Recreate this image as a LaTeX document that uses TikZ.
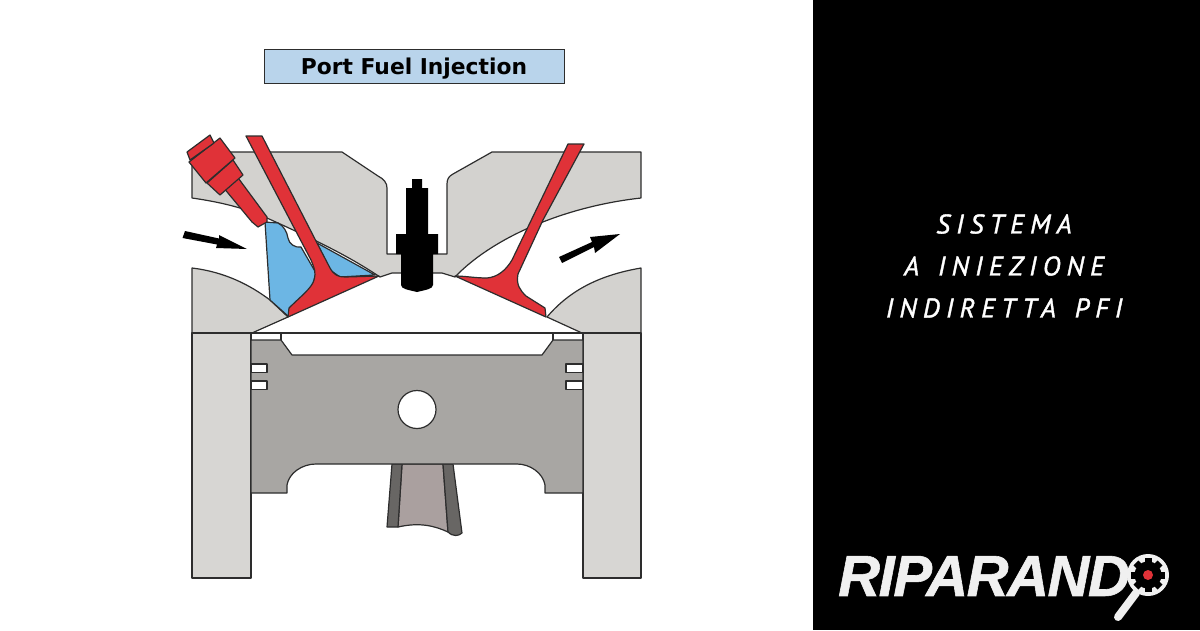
\documentclass[tikz,border=0pt]{standalone}
\usepackage{fontspec}
\usepackage{xcolor}
\usetikzlibrary{positioning}
\newfontfamily\titlefont{DejaVu Sans}
\newfontfamily\slogfont[LetterSpace=23, WordSpace=1.4, ItalicFeatures={FakeBold=1.4}]{PT Sans}
\newfontfamily\logofont[LetterSpace=-2.5, BoldItalicFeatures={FakeBold=1}]{Liberation Sans}
\definecolor{headgray}{RGB}{211, 210, 207}
\definecolor{wallgray}{RGB}{215, 214, 211}
\definecolor{pistongray}{RGB}{168, 166, 163}
\definecolor{rodlight}{RGB}{170, 160, 159}
\definecolor{roddark}{RGB}{104, 102, 100}
\definecolor{valvered}{RGB}{224, 50, 56}
\definecolor{fuelblue}{RGB}{108, 182, 228}
\definecolor{titleblue}{RGB}{185, 212, 235}
\definecolor{logowhite}{RGB}{240, 240, 240}
\definecolor{edgedark}{RGB}{45, 45, 45}
\tikzset{
 part/.style={draw=edgedark, line width=1.2pt, line join=round},
 headpart/.style={part, fill=headgray},
 wallpart/.style={part, fill=wallgray},
 redpart/.style={part, fill=valvered},
 fuelpart/.style={part, fill=fuelblue},
 voidpart/.style={part, fill=white},
 blackpart/.style={fill=black, line join=round}
}

\begin{document}
\begin{tikzpicture}[x=1pt, y=-1pt]
 \useasboundingbox (0,0) rectangle (1200,630);
 \fill[black] (813,0) rectangle (1200,630);

 \node[draw=edgedark, fill=titleblue, line width=1pt, minimum width=300pt, minimum height=34pt, inner sep=0pt, text depth=0pt, font=\titlefont\bfseries\fontsize{21.8}{24}\selectfont] (title) at (414,66) {Port Fuel Injection};

 % cylinder head and walls
 \draw[headpart] (192,152) -- (342,152) -- (378,176) .. controls (384,179) and (387,183) .. (387,188) -- (387,254) -- (447,254) -- (447,184) .. controls (447,179) and (449,176) .. (453,174) -- (492,152) -- (641,152) -- (641,198) .. controls (560,207) and (490,240) .. (455,277) -- (442,273) -- (392,273) -- (380,277) .. controls (350,257) and (320,242) .. (267,218) .. controls (245,208) and (220,202) .. (192,198) -- cycle;
 \draw[headpart] (192,268) .. controls (225,272) and (250,285) .. (270,300) -- (288,317) -- (252,333) -- (192,333) -- cycle;
 \draw[headpart] (641,268) .. controls (600,275) and (570,290) .. (547,317) -- (582,333) -- (641,333) -- cycle;
 \draw[wallpart] (192,333) rectangle (251,578);
 \draw[wallpart] (583,333) rectangle (641,578);

 % connecting rod
 \draw[part, fill=rodlight] (402,464) -- (443,464) -- (448,532) .. controls (435,526) and (420,522) .. (398,527) -- cycle;
 \draw[part, fill=roddark] (392,464) -- (402,464) -- (398,527) -- (387,527) -- cycle;
 \draw[part, fill=roddark] (443,464) -- (453,464) -- (462,533) .. controls (459,536) and (453,537) .. (448,532) -- cycle;

 % piston
 \draw[part, fill=pistongray] (251,340) -- (281,340) -- (292,355) -- (542,355) -- (553,340) -- (583,340) -- (583,493) -- (545,493) -- (545,485) .. controls (543,473) and (530,464) .. (517,464) -- (316,464) .. controls (302,464) and (289,473) .. (287,485) -- (287,493) -- (251,493) -- cycle;
 \draw[part] (251,333) -- (583,333);
 \draw[part] (281,333) -- (281,340);
 \draw[part] (553,333) -- (553,340);
 \foreach \groovey in {364,381} {
  \draw[voidpart] (251,\groovey) rectangle (267,\groovey+8.5);
  \draw[voidpart] (583,\groovey) rectangle (566,\groovey+8.5);
 }
 \draw[voidpart] (417,409.5) circle (19);

 % fuel
 \draw[fuelpart] (265,222) -- (278,223) .. controls (284,226) and (287,232) .. (288,238) .. controls (289,244) and (295,248) .. (301,247) -- (316,273) -- (313,284) -- (288,316) -- (270,300) -- cycle;
 \draw[fuelpart] (317,243) -- (375,275) -- (340,277) -- (330,270) -- cycle;

 % valves
 \draw[redpart] (246,136) -- (262,136) -- (317,243) -- (330,268) .. controls (334,275) and (338,277) .. (345,277) -- (379,276) -- (288,317) -- (289,308) .. controls (300,297) and (312,288) .. (314,280) .. controls (316,272) and (315,270) .. (311,260) -- cycle;
 \draw[redpart] (568,144) -- (584,144) -- (543,220) -- (518,274) .. controls (516,285) and (520,290) .. (526,296) -- (545,308) -- (546,317) -- (455,276) .. controls (465,276) and (475,278) .. (487,278) .. controls (498,277) and (506,270) .. (512,260) -- cycle;

 % injector
 \draw[redpart] (218,181) -- (233,171) -- (267,217) -- (267,222) -- (258,227) -- (252,222) -- cycle;
 \draw[redpart] (207,183) -- (233,160) -- (243,175) -- (220,195) -- cycle;
 \draw[redpart] (189,162) -- (220,138) -- (235,158) -- (206,183) -- cycle;
 \draw[redpart] (187,152) -- (210,135) -- (214,143) -- (190,160) -- cycle;

 % spark plug
 \fill[blackpart] (412,179) -- (422,179) -- (422,188) -- (428,188) -- (428,234) -- (438,234) -- (438,254) -- (433,254) -- (433,285) .. controls (433,289) and (425,290) .. (417,292) .. controls (409,290) and (401,289) .. (401,285) -- (401,254) -- (396,254) -- (396,234) -- (406,234) -- (406,188) -- (412,188) -- cycle;

 % flow arrows
 \fill[blackpart] (182.5,238) -- (185,231) -- (219,238.5) -- (219,235) -- (247,249) -- (216,248) -- (217,244.5) -- cycle;
 \fill[blackpart] (559,257) -- (592,242) -- (590,237) -- (620,234) -- (595,253) -- (594,247) -- (562,263) -- cycle;

 \node[text=white, align=center, inner sep=0pt, font=\slogfont\itshape\fontsize{27}{42}\selectfont] (slogan) at (1004,266) {SISTEMA\\A INIEZIONE\\INDIRETTA PFI};

 \node[text=logowhite, anchor=west, inner sep=0pt, font=\logofont\bfseries\itshape\fontsize{58}{58}\selectfont] (logo) at (838,576) {RIPARAND};

 % magnifier with gear
 \draw[logowhite, line width=8pt, line cap=round] (1136,593) -- (1118,617);
 \fill[logowhite] (1148,575) circle (21);
 \fill[black] (1148,575) circle (13.5);
 \foreach \toothangle in {0,45,...,315} {
  \fill[black, rotate around={\toothangle:(1148,575)}] (1144.5,575) rectangle (1151.5,558);
 }
 \fill[valvered] (1148,575) circle (5);
\end{tikzpicture}
\end{document}
